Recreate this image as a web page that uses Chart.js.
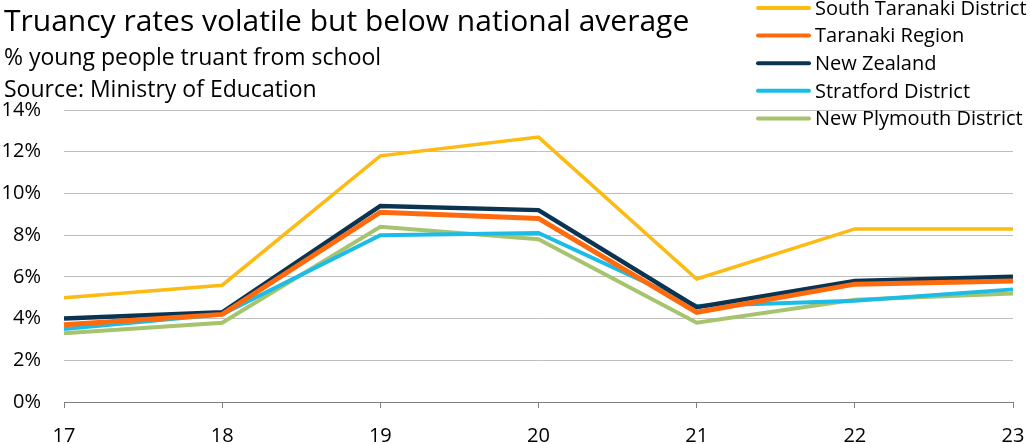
<!DOCTYPE html>
<html>
<head>
<meta charset="utf-8">
<script src="https://cdn.jsdelivr.net/npm/chart.js@4.4.0/dist/chart.umd.min.js"></script>
<style>
  html, body { margin: 0; padding: 0; background: #fff; }
  #wrap { position: relative; width: 1031px; height: 444px; }
</style>
</head>
<body>
<div id="wrap"><canvas id="truancy" width="1031" height="444"></canvas></div>
<script>
const years = ["17", "18", "19", "20", "21", "22", "23"];

const southTaranaki = [5.0, 5.6, 11.8, 12.7, 5.9, 8.3, 8.3];
const taranakiRegion = [3.7, 4.2, 9.1, 8.8, 4.3, 5.65, 5.8];
const newZealand = [4.0, 4.3, 9.4, 9.2, 4.55, 5.8, 6.0];
const stratford = [3.5, 4.2, 8.0, 8.1, 4.6, 4.85, 5.4];
const newPlymouth = [3.3, 3.8, 8.4, 7.8, 3.8, 4.9, 5.2];

const seriesNames = ["South Taranaki District", "Taranaki Region", "New Zealand", "Stratford District", "New Plymouth District"];
const seriesColours = ["#FDBA12", "#FF6A0D", "#0B3452", "#1BBCE8", "#A6C46E"];
const seriesWidths = [3.5, 5, 4.5, 4, 4];

const FONT = "'Open Sans', 'Noto Sans', sans-serif";

// title block + legend drawn straight onto the canvas
const headerPlugin = {
  id: "header",
  afterDraw(chart) {
    const ctx = chart.ctx;
    ctx.save();
    ctx.fillStyle = "#000";
    ctx.textBaseline = "alphabetic";
    ctx.textAlign = "left";
    ctx.font = "30px " + FONT;
    ctx.fillText("Truancy rates volatile but below national average", 4, 31);
    ctx.font = "23px " + FONT;
    ctx.fillText("% young people truant from school", 4, 65);
    ctx.fillText("Source: Ministry of Education", 4, 97);

    chart.data.datasets.forEach((ds, i) => {
      const y = 8 + i * 27.6;
      ctx.strokeStyle = ds.borderColor;
      ctx.lineWidth = 4;
      ctx.lineCap = "round";
      ctx.beginPath();
      ctx.moveTo(758, y);
      ctx.lineTo(809, y);
      ctx.stroke();
      ctx.fillStyle = "#000";
      ctx.font = "20px " + FONT;
      ctx.textBaseline = "middle";
      ctx.fillText(ds.label, 815, y + 1);
    });
    ctx.restore();
  }
};

const seriesData = [southTaranaki, taranakiRegion, newZealand, stratford, newPlymouth];

new Chart(document.getElementById("truancy"), {
  type: "line",
  data: {
    labels: years,
    datasets: seriesData.map((values, i) => ({
      label: seriesNames[i],
      data: values,
      borderColor: seriesColours[i],
      backgroundColor: seriesColours[i],
      borderWidth: seriesWidths[i],
      pointRadius: 0,
      tension: 0,
      fill: false
    }))
  },
  options: {
    responsive: false,
    animation: false,
    events: [],
    layout: { autoPadding: false, padding: { top: 110, right: 18, left: 0, bottom: 0 } },
    plugins: {
      legend: { display: false },
      tooltip: { enabled: false }
    },
    scales: {
      x: {
        type: "category",
        offset: false,
        afterFit(scale) {
          scale.height = 42;
          scale.paddingLeft = 0;
          scale.paddingRight = 0;
        },
        grid: {
          drawOnChartArea: false,
          drawTicks: true,
          tickLength: 6,
          color: "#7f7f7f"
        },
        border: { display: true, color: "#7f7f7f", width: 1 },
        ticks: {
          color: "#000",
          font: { family: FONT, size: 20 },
          padding: 16,
          maxRotation: 0
        }
      },
      y: {
        min: 0,
        max: 14,
        afterFit(scale) {
          scale.width = 64;
          scale.paddingTop = 0;
          scale.paddingBottom = 0;
        },
        grid: {
          color: "#bfbfbf",
          lineWidth: 1,
          drawTicks: false
        },
        border: { display: false },
        ticks: {
          stepSize: 2,
          color: "#000",
          padding: 23,
          font: { family: FONT, size: 20 },
          callback: v => v + "%"
        }
      }
    }
  },
  plugins: [headerPlugin]
});
</script>
</body>
</html>
